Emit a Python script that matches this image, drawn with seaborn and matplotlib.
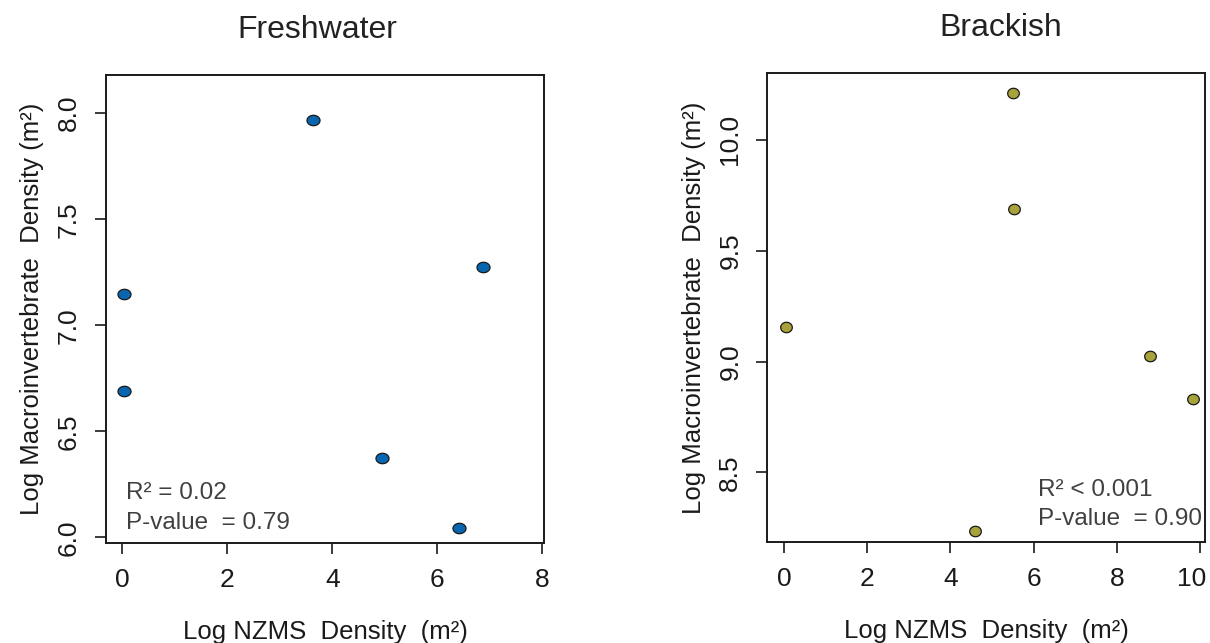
import numpy as np
import pandas as pd
import seaborn as sns
import matplotlib
matplotlib.use("Agg")
import matplotlib.pyplot as plt
import matplotlib.transforms as mtransforms
from matplotlib.path import Path

# ---- data ----
fresh_x = [0.03, 0.03, 3.63, 4.94, 6.41, 6.86]
fresh_y = [7.146, 6.69, 7.97, 6.374, 6.042, 7.276]
brack_x = [0.05, 5.50, 5.54, 8.80, 9.84, 4.59]
brack_y = [9.158, 10.21, 9.688, 9.026, 8.833, 8.236]

panel_titles = ["Freshwater", "Brackish"]
fresh_xticks = [0, 2, 4, 6, 8]
fresh_yticks = [6.0, 6.5, 7.0, 7.5, 8.0]
brack_xticks = [0, 2, 4, 6, 8, 10]
brack_yticks = [8.5, 9.0, 9.5, 10.0]
fresh_stats = ["R² = 0.02", "P-value  = 0.79"]
brack_stats = ["R² < 0.001", "P-value  = 0.90"]

xlabel = "Log NZMS  Density  (m²)"
ylabel = "Log Macroinvertebrate  Density (m²)"

sns.set_style("white")
plt.rcParams['font.family'] = ['Liberation Sans', 'DejaVu Sans']

fig = plt.figure(figsize=(12.1, 6.43), dpi=100)
ax1 = fig.add_axes([106/1210, 1-543.3/643, (544-106)/1210, (543.3-75)/643])
ax2 = fig.add_axes([767.3/1210, 1-542.3/643, (1205-767.3)/1210, (542.3-73.3)/643])

# elliptical marker (slightly wider than tall, like the reference)
t = np.linspace(0, 2*np.pi, 60)
ell_f = Path(np.column_stack([np.cos(t), 0.8*np.sin(t)]), closed=True)
ell_b = Path(np.column_stack([np.cos(t), 0.9*np.sin(t)]), closed=True)

df_f = pd.DataFrame({"x": fresh_x, "y": fresh_y})
df_b = pd.DataFrame({"x": brack_x, "y": brack_y})

sns.scatterplot(data=df_f, x="x", y="y", ax=ax1, marker=ell_f, s=88,
                color="#0866b0", edgecolor="#1a1a1a", linewidth=0.9, zorder=3)
sns.scatterplot(data=df_b, x="x", y="y", ax=ax2, marker=ell_b, s=70,
                color="#a7a23a", edgecolor="#1a1a1a", linewidth=0.9, zorder=3)

ax1.set_xlim(-0.31, 8.03)
ax1.set_ylim(5.972, 8.18)
ax2.set_xlim(-0.40, 10.12)
ax2.set_ylim(8.185, 10.30)

ax1.set_xticks(fresh_xticks)
ax1.set_xticklabels([str(v) for v in fresh_xticks])
ax1.set_yticks(fresh_yticks)
ax1.set_yticklabels([f"{v:.1f}" for v in fresh_yticks])
ax2.set_xticks(brack_xticks)
ax2.set_xticklabels([str(v) for v in brack_xticks])
ax2.set_yticks(brack_yticks)
ax2.set_yticklabels([f"{v:.1f}" for v in brack_yticks])

title_x = [(317-106)/438, (1001-767.3)/437.7]
stats = [fresh_stats, brack_stats]
stat_pos = [(0.0457, 0.094, 0.030), (0.618, 0.0987, 0.037)]

for i, ax in enumerate([ax1, ax2]):
    for sp in ax.spines.values():
        sp.set_visible(True)
        sp.set_color("#1a1a1a")
        sp.set_linewidth(1.4)
    ax.tick_params(axis='both', which='major', direction='out', length=8,
                   width=1.2, color="#1a1a1a", labelsize=19, labelcolor="#1a1a1a",
                   bottom=True, left=True)
    ax.tick_params(axis='x', pad=10)
    ax.tick_params(axis='y', pad=10, labelrotation=90)
    for lab in ax.get_yticklabels():
        lab.set_va('center')
    ax.set_xlabel(xlabel, fontsize=18.5, color="#1a1a1a", labelpad=20)
    ax.set_ylabel(ylabel, fontsize=18.5, color="#1a1a1a", labelpad=9)
    ax.set_title(panel_titles[i], fontsize=23, color="#222222", pad=27, x=title_x[i])
    sx, y1, y2 = stat_pos[i]
    ax.text(sx, y1, stats[i][0], transform=ax.transAxes, fontsize=17.5,
            color="#404040", va='baseline', ha='left')
    ax.text(sx, y2, stats[i][1], transform=ax.transAxes, fontsize=17.5,
            color="#404040", va='baseline', ha='left')
    ax.grid(False)

# the last brackish tick label sits shifted left so it stays inside the figure
last = ax2.get_xticklabels()[-1]
last.set_transform(last.get_transform() +
                   mtransforms.ScaledTranslation(-8/100, 0, fig.dpi_scale_trans))

fig.savefig("out.png", dpi=100, facecolor="white")
